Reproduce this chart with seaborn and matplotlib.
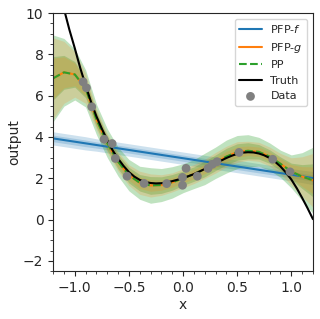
import numpy as np
import matplotlib
matplotlib.use("Agg")
import matplotlib.pyplot as plt
import seaborn as sns

# =====================================
# DATA
# =====================================

# observed data points
data_x = [-0.923, -0.892, -0.843, -0.729, -0.655, -0.625, -0.517, -0.360,
          -0.151, -0.005, 0.028, -0.005, 0.132, 0.231, 0.272, 0.314,
          0.517, 0.828, 0.988]
data_y = [6.67, 6.38, 5.46, 3.89, 3.68, 2.96, 2.10, 1.75,
          1.74, 2.04, 2.48, 1.66, 2.10, 2.48, 2.68, 2.80,
          3.25, 2.92, 2.31]

# ground truth curve
truth_x = [-1.20, -1.15, -1.10, -1.05, -1.00, -0.95, -0.90, -0.85, -0.80,
           -0.75, -0.70, -0.65, -0.60, -0.55, -0.50, -0.45, -0.40, -0.35,
           -0.30, -0.25, -0.20, -0.15, -0.10, -0.05, 0.00, 0.05, 0.10,
           0.15, 0.20, 0.25, 0.30, 0.35, 0.40, 0.45, 0.50, 0.55, 0.60,
           0.65, 0.70, 0.75, 0.80, 0.85, 0.90, 0.95, 1.00, 1.05, 1.10,
           1.15, 1.20]
truth_y = [12.4, 11.2, 10.2, 9.2, 8.3, 7.35, 6.5, 5.7, 5.0,
           4.4, 3.85, 3.35, 2.95, 2.6, 2.3, 2.08, 1.92, 1.82,
           1.77, 1.75, 1.76, 1.80, 1.86, 1.93, 2.01, 2.10, 2.20,
           2.32, 2.45, 2.58, 2.72, 2.85, 2.98, 3.09, 3.18, 3.24, 3.26,
           3.25, 3.20, 3.11, 2.98, 2.80, 2.57, 2.28, 1.94, 1.52, 1.05,
           0.55, 0.02]

# prediction grid
grid_x = [-1.2, -1.1, -1.0, -0.9, -0.8, -0.7, -0.6, -0.5, -0.4, -0.3,
          -0.2, -0.1, 0.0, 0.1, 0.2, 0.3, 0.4, 0.5, 0.6, 0.7,
          0.8, 0.9, 1.0, 1.1, 1.2]

# PFP-f: mean and std
f_mean = [3.93, 3.85, 3.77, 3.69, 3.61, 3.53, 3.45, 3.37, 3.29, 3.21,
          3.13, 3.05, 2.97, 2.89, 2.81, 2.73, 2.65, 2.57, 2.49, 2.41,
          2.33, 2.25, 2.17, 2.09, 2.01]
f_std = [0.16, 0.16, 0.16, 0.16, 0.15, 0.15, 0.15, 0.15, 0.15, 0.15,
         0.15, 0.15, 0.15, 0.15, 0.15, 0.15, 0.15, 0.15, 0.15, 0.15,
         0.15, 0.15, 0.15, 0.15, 0.16]

# PFP-g: mean and std
g_mean = [6.84, 7.13, 7.03, 6.35, 4.85, 3.70, 2.80, 2.15, 1.78, 1.65,
          1.67, 1.80, 2.00, 2.20, 2.45, 2.75, 3.05, 3.27, 3.33, 3.28,
          3.05, 2.70, 2.33, 2.08, 1.90]
g_std = [0.98, 0.75, 0.55, 0.36, 0.25, 0.23, 0.23, 0.25, 0.28, 0.28,
         0.25, 0.23, 0.23, 0.23, 0.23, 0.25, 0.25, 0.25, 0.23, 0.23,
         0.23, 0.25, 0.33, 0.48, 0.65]

# PP: mean and std
pp_mean = [6.84, 7.13, 7.03, 6.35, 4.85, 3.70, 2.80, 2.15, 1.78, 1.65,
           1.67, 1.80, 2.00, 2.20, 2.45, 2.75, 3.05, 3.27, 3.33, 3.28,
           3.05, 2.70, 2.33, 2.08, 1.90]
pp_std = [1.05, 0.82, 0.62, 0.45, 0.37, 0.35, 0.35, 0.38, 0.40, 0.43,
          0.40, 0.38, 0.35, 0.35, 0.38, 0.38, 0.40, 0.40, 0.39, 0.35,
          0.33, 0.33, 0.40, 0.58, 0.80]

# =====================================
# PLOT
# =====================================

sns.set_style("ticks")
plt.rcParams['font.family'] = ['DejaVu Sans']

fig, ax = plt.subplots(figsize=(3.2, 3.19), dpi=100)
fig.subplots_adjust(left=0.166, right=0.978, top=0.959, bottom=0.150)

gx = np.array(grid_x)
bands = [
    (f_mean, f_std, "C0", 0.22),
    (pp_mean, pp_std, "C2", 0.30),
    (g_mean, g_std, "C1", 0.20),
]
for mean, std, color, alpha in bands:
    m = np.array(mean)
    s = np.array(std)
    for k in (1, 2):
        ax.fill_between(gx, m - k * s, m + k * s, color=color,
                        alpha=alpha, linewidth=0)

sns.lineplot(x=grid_x, y=f_mean, color="C0", linewidth=1.5,
             label="PFP-$f$", ax=ax)
sns.lineplot(x=grid_x, y=g_mean, color="C1", linewidth=1.5,
             label="PFP-$g$", ax=ax)
sns.lineplot(x=grid_x, y=pp_mean, color="C2", linewidth=1.5,
             linestyle="--", label="PP", ax=ax)
sns.lineplot(x=truth_x, y=truth_y, color="black", linewidth=1.5,
             label="Truth", ax=ax)
sns.scatterplot(x=data_x, y=data_y, color="gray", s=40,
                edgecolor="none", label="Data", zorder=5, ax=ax)

ax.set_xlim(-1.2, 1.2)
ax.set_ylim(-2.5, 10)
ax.set_yticks([-2, 0, 2, 4, 6, 8, 10])
ax.set_xticks([-1.0, -0.5, 0.0, 0.5, 1.0])
ax.minorticks_on()

ax.set_xlabel("x", labelpad=2)
ax.set_ylabel("output", labelpad=1)

ax.legend(loc="upper right", fontsize=8)

plt.savefig("out.png", dpi=100)
